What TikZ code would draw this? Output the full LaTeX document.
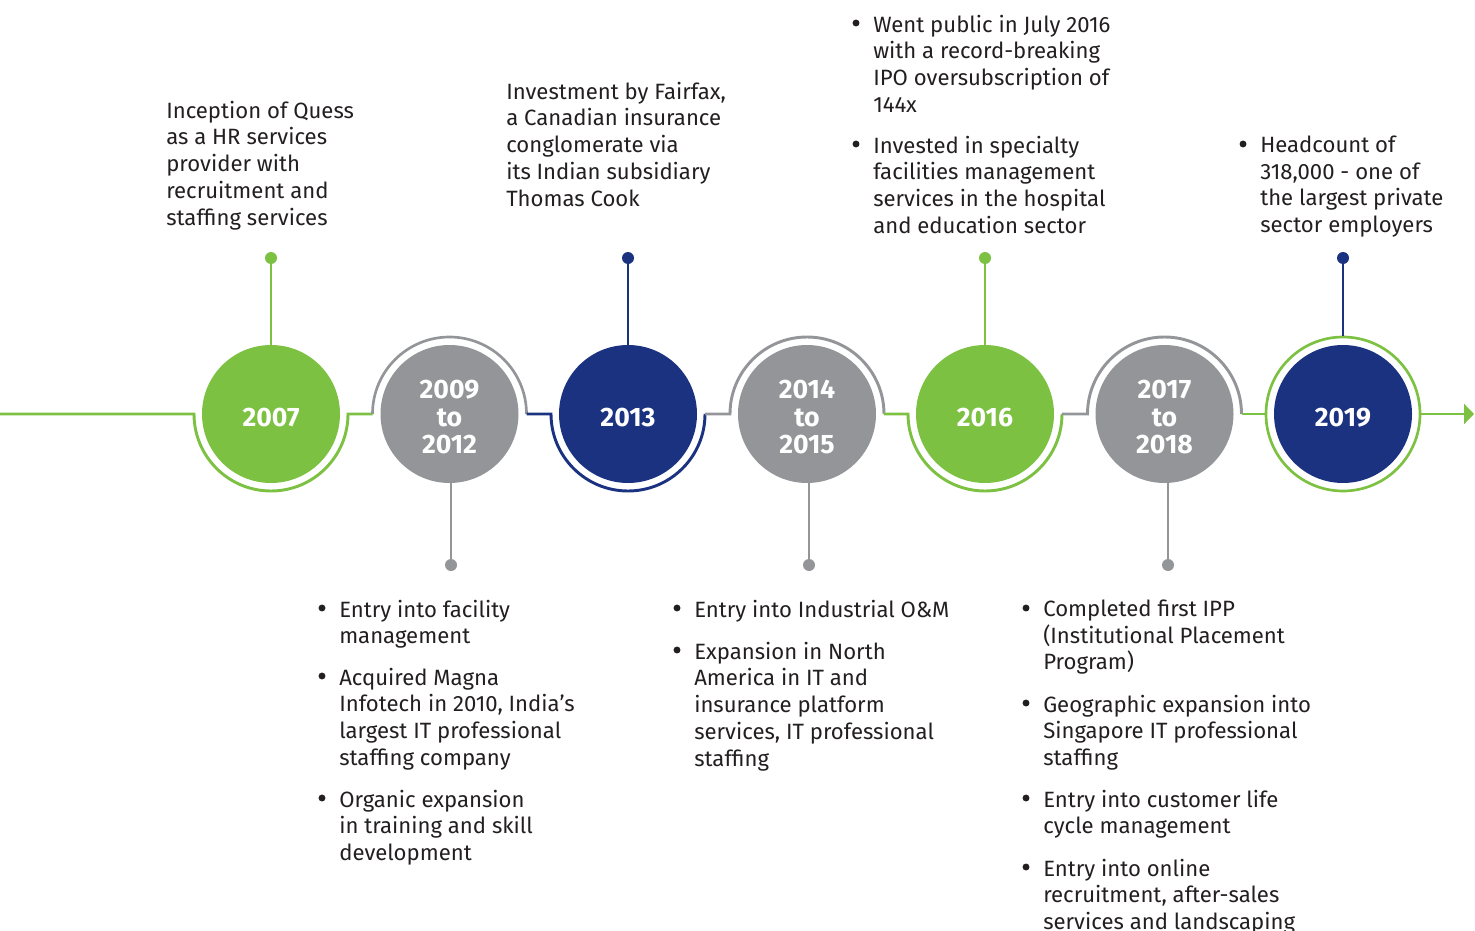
\documentclass[tikz,border=0pt]{standalone}
\usepackage{fontspec}
\setmainfont{Fira Sans}
\usepackage{tikz}
\usetikzlibrary{arrows.meta, calc}

\definecolor{QGreen}{HTML}{7DC142}
\definecolor{QBlue}{HTML}{1B3281}
\definecolor{QGray}{HTML}{939598}
\definecolor{QInk}{HTML}{231F20}

\newcommand{\Item}[3]{
	\node[txt] (#1) at (#2) {#3};
	\fill[QInk] ($(#1.north west)+(-17,8.5)$) circle (2.6pt);
}

\begin{document}
\begin{tikzpicture}[x=0.75pt, y=-0.75pt,
		disk/.style={circle, minimum size=103.5pt, inner sep=0pt},
		yearlab/.style={text=white, font=\bfseries\fontsize{20}{20.6}\selectfont, align=center, yshift=-2.5pt},
		seg/.style={line width=2.2pt},
		ring/.style={line width=2pt},
		stem/.style={line width=2pt},
		pin/.style={circle, minimum size=9pt, inner sep=0pt},
		txt/.style={anchor=north west, inner sep=0pt, align=left, text=QInk, font=\fontsize{16.6}{20.1}\selectfont}
	]
	\useasboundingbox (0,0) rectangle (1475,931);

	\node[disk, fill=QGreen, label={[yearlab]center:2007}] (y07) at (271,414) {};
	\node[disk, fill=QGray, label={[yearlab]center:{2009\\to\\2012}}] (y09) at (449.5,414) {};
	\node[disk, fill=QBlue, label={[yearlab]center:2013}] (y13) at (628,414) {};
	\node[disk, fill=QGray, label={[yearlab]center:{2014\\to\\2015}}] (y14) at (807,414) {};
	\node[disk, fill=QGreen, label={[yearlab]center:2016}] (y16) at (985,414) {};
	\node[disk, fill=QGray, label={[yearlab]center:{2017\\to\\2018}}] (y17) at (1164.5,414) {};
	\node[disk, fill=QBlue, label={[yearlab]center:2019}] (y19) at (1343,414) {};
	\node[disk, minimum size=115.5pt, draw=QGreen, ring] (o19) at (y19) {};

	\foreach \n in {07,09,13,14,16,17}{
		\coordinate (l\n) at ($(y\n.center)+(-77,0)$);
		\coordinate (r\n) at ($(y\n.center)+(77,0)$);
	}

	% timeline
	\draw[seg, QGreen] (0,414) -- (l07) arc[start angle=180, end angle=360, radius=57.75pt] -- (l09);
	\draw[ring, QGray] (l09) arc[start angle=180, end angle=0, radius=57.75pt];
	\draw[seg, QBlue] (r09) -- (l13) arc[start angle=180, end angle=360, radius=57.75pt];
	\draw[seg, QGray] (r13) -- (l14) arc[start angle=180, end angle=0, radius=57.75pt];
	\draw[seg, QGreen] (r14) -- (l16) arc[start angle=180, end angle=360, radius=57.75pt];
	\draw[seg, QGray] (r16) -- (l17) arc[start angle=180, end angle=0, radius=57.75pt];
	\draw[seg, QGreen] (r17) -- (o19.west);
	\coordinate (tip) at (1474,414);
	\draw[seg, QGreen, -{Triangle[length=7.5pt, width=15pt]}] (o19.east) -- (tip);

	% pins above
	\node[pin, fill=QGreen] (p07) at (271,258) {};
	\node[pin, fill=QBlue] (p13) at (628,258) {};
	\node[pin, fill=QGreen] (p16) at (985,258) {};
	\node[pin, fill=QBlue] (p19) at (1343,258) {};
	\draw[stem, QGreen] (p07) -- (y07);
	\draw[stem, QBlue] (p13) -- (y13);
	\draw[stem, QGreen] (p16) -- (y16);
	\draw[stem, QBlue] (p19) -- (o19);

	% pins below
	\node[pin, fill=QGray] (p09) at (451,565) {};
	\node[pin, fill=QGray] (p14) at (809,565) {};
	\node[pin, fill=QGray] (p17) at (1168,565) {};
	\draw[stem, QGray] (p09) -- (p09 |- y09.south);
	\draw[stem, QGray] (p14) -- (p14 |- y14.south);
	\draw[stem, QGray] (p17) -- (p17 |- y17.south);

	% texts
	\node[txt] (t07) at (166,100.5) {Inception of Quess\\as a HR services\\provider with\\recruitment and\\staffing services};
	\node[txt] (t13) at (506,81.5) {Investment by Fairfax,\\a Canadian insurance\\conglomerate via\\its Indian subsidiary\\Thomas Cook};
	\Item{t16a}{873,14.5}{Went public in July 2016\\with a record-breaking\\IPO oversubscription of\\144x}
	\Item{t16b}{873,135.5}{Invested in specialty\\facilities management\\services in the hospital\\and education sector}
	\Item{t19}{1260,135.5}{Headcount of\\318,000 - one of\\the largest private\\sector employers}

	\Item{t09a}{339,599.5}{Entry into facility\\management}
	\Item{t09b}{339,667.5}{Acquired Magna\\Infotech in 2010, India’s\\largest IT professional\\staffing company}
	\Item{t09c}{339,789.5}{Organic expansion\\in training and skill\\development}
	\Item{t14a}{694,599.5}{Entry into Industrial O\&M}
	\Item{t14b}{694,641.5}{Expansion in North\\America in IT and\\insurance platform\\services, IT professional\\staffing}
	\Item{t17a}{1043,599.5}{Completed first IPP\\(Institutional Placement\\Program)}
	\Item{t17b}{1043,694.5}{Geographic expansion into\\Singapore IT professional\\staffing}
	\Item{t17c}{1043,789.5}{Entry into customer life\\cycle management}
	\Item{t17d}{1043,858.5}{Entry into online\\recruitment, after-sales\\services and landscaping}
\end{tikzpicture}
\end{document}
